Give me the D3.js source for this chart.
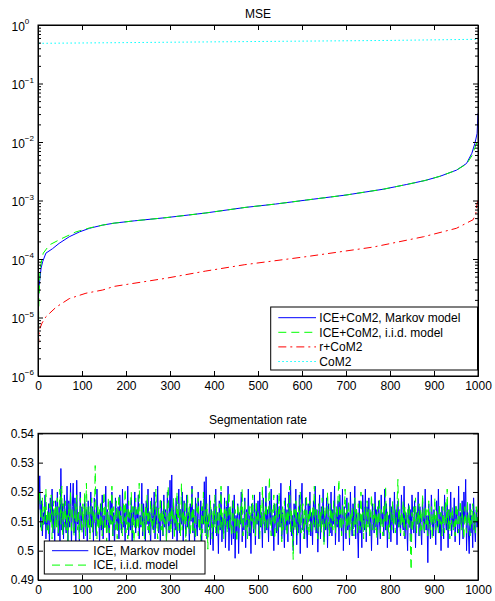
<!DOCTYPE html>
<html><head><meta charset="utf-8">
<script src="https://cdn.jsdelivr.net/npm/d3@7/dist/d3.min.js"></script>
<style>
html,body{margin:0;padding:0;background:#fff;}
text{font-family:"Liberation Sans",Arial,Helvetica,sans-serif;}
</style></head>
<body><svg id="c" width="495" height="601"></svg>
<script>
// ---------- DATA ----------
const mseTitle = "MSE";
const segTitle = "Segmentation rate";
const xTicks = [0,100,200,300,400,500,600,700,800,900,1000];
const mseDecades = [-6,-5,-4,-3,-2,-1,0];
const segTicks = [0.49,0.50,0.51,0.52,0.53,0.54];
const segTickLabels = ["0.49","0.5","0.51","0.52","0.53","0.54"];

const mseNames = ["ICE+CoM2, Markov model","ICE+CoM2, i.i.d. model","r+CoM2","CoM2"];
// [index, MSE]
const mseMarkov = [[1,2.0e-5],[2,3.2e-5],[4.5,4.7e-5],[7,7e-5],[10.6,9e-5],[18,1.26e-4],[33,1.5e-4],[48,1.85e-4],[71,2.4e-4],[94,2.9e-4],[117,3.35e-4],[147,3.8e-4],[173,4.1e-4],[220,4.5e-4],[292,5.1e-4],[380,6.1e-4],[470,7.6e-4],[540,8.7e-4],[611,1.02e-3],[700,1.24e-3],[785,1.56e-3],[838,1.88e-3],[880,2.2e-3],[914,2.6e-3],[951,3.3e-3],[974,4.3e-3],[986,6.4e-3],[993,9.5e-3],[998,1.4e-2],[1000,3.1e-2]];
const mseIid = [[1,2.0e-6],[1.5,1.3e-5],[4.5,6.5e-5],[10,1.1e-4],[12,1.26e-4],[26,1.74e-4],[52,2.2e-4],[86,2.9e-4],[117,3.4e-4],[147,3.8e-4],[173,4.1e-4],[220,4.5e-4],[292,5.1e-4],[380,6.1e-4],[470,7.6e-4],[540,8.7e-4],[611,1.02e-3],[700,1.24e-3],[785,1.56e-3],[838,1.88e-3],[880,2.2e-3],[914,2.6e-3],[951,3.3e-3],[974,4.2e-3],[986,5.8e-3],[993,8.0e-3],[1000,1.1e-2]];
const mseR = [[1,3.2e-6],[2,4.5e-6],[3,6.1e-6],[9,8e-6],[18,1.03e-5],[41,1.5e-5],[71,2.1e-5],[109,2.6e-5],[147,2.95e-5],[173,3.4e-5],[292,4.7e-5],[380,6.2e-5],[470,8e-5],[611,1.1e-4],[762,1.6e-4],[876,2.4e-4],[951,3.35e-4],[989,4.7e-4],[995,6e-4],[998,8.9e-4],[1000,1.0e-3]];
const mseCoM2 = [[1,0.486],[200,0.50],[400,0.515],[600,0.53],[800,0.545],[1000,0.57]];

const segNames = ["ICE, Markov model","ICE, i.i.d. model"];
// one value every 2 realisations (2,4,...,1000)
const segMarkov = [
0.514,0.5255,0.508,0.517,0.505,0.513,0.509,0.519,0.504,0.512,
0.507,0.516,0.502,0.518,0.510,0.521,0.506,0.514,0.503,0.517,
0.509,0.520,0.505,0.515,0.501,0.528,0.507,0.516,0.504,0.519,
0.511,0.506,0.522,0.503,0.517,0.508,0.523,0.502,0.515,0.523,
0.506,0.518,0.501,0.524,0.509,0.513,0.503,0.520,0.507,0.515,
0.510,0.504,0.519,0.508,0.514,0.502,0.517,0.511,0.506,0.520,
0.508,0.515,0.503,0.518,0.510,0.505,0.521,0.509,0.513,0.502,
0.516,0.507,0.519,0.504,0.512,0.508,0.522,0.506,0.514,0.510,
0.503,0.517,0.509,0.520,0.505,0.513,0.501,0.518,0.511,0.507,
0.515,0.504,0.519,0.510,0.506,0.521,0.508,0.514,0.503,0.516,
0.509,0.522,0.505,0.513,0.507,0.518,0.502,0.515,0.510,0.520,
0.506,0.514,0.511,0.519,0.504,0.512,0.508,0.523,0.505,0.516,
0.510,0.503,0.517,0.509,0.521,0.506,0.513,0.501,0.518,0.511,
0.507,0.520,0.504,0.515,0.509,0.522,0.506,0.512,0.502,0.517,
0.511,0.505,0.519,0.508,0.514,0.503,0.520,0.510,0.506,0.524,
0.509,0.5258,0.504,0.516,0.510,0.507,0.518,0.502,0.513,0.521,
0.506,0.514,0.509,0.520,0.503,0.517,0.511,0.505,0.519,0.508,
0.513,0.502,0.516,0.510,0.522,0.506,0.514,0.501,0.518,0.509,
0.505,0.520,0.511,0.507,0.517,0.503,0.515,0.509,0.5235,0.506,
0.5252,0.504,0.512,0.508,0.519,0.502,0.514,0.510,0.500,0.516,
0.509,0.521,0.505,0.513,0.499,0.517,0.507,0.520,0.503,0.511,
0.506,0.518,0.501,0.515,0.508,0.522,0.500,0.514,0.510,0.502,
0.517,0.504,0.519,0.4974,0.512,0.506,0.516,0.499,0.513,0.509,
0.520,0.503,0.511,0.507,0.518,0.501,0.514,0.508,0.521,0.505,
0.512,0.499,0.516,0.510,0.506,0.519,0.502,0.514,0.509,0.517,
0.504,0.520,0.508,0.513,0.501,0.518,0.510,0.506,0.522,0.507,
0.514,0.503,0.517,0.509,0.521,0.505,0.512,0.500,0.516,0.510,
0.506,0.519,0.502,0.515,0.508,0.523,0.504,0.513,0.510,0.501,
0.518,0.507,0.514,0.503,0.520,0.509,0.524,0.505,0.512,0.500,
0.516,0.508,0.521,0.502,0.513,0.506,0.519,0.499,0.515,0.523,
0.507,0.511,0.504,0.518,0.509,0.501,0.516,0.510,0.520,0.505,
0.513,0.502,0.517,0.508,0.522,0.506,0.514,0.4995,0.511,0.519,
0.504,0.515,0.509,0.521,0.503,0.512,0.507,0.518,0.501,0.516,
0.510,0.506,0.520,0.505,0.514,0.509,0.522,0.502,0.513,0.508,
0.517,0.503,0.519,0.511,0.506,0.521,0.500,0.515,0.509,0.504,
0.518,0.507,0.513,0.502,0.520,0.510,0.505,0.516,0.508,0.522,
0.504,0.514,0.509,0.4975,0.517,0.506,0.512,0.501,0.519,0.510,
0.507,0.521,0.503,0.515,0.509,0.518,0.505,0.513,0.500,0.516,
0.511,0.506,0.520,0.508,0.514,0.502,0.517,0.510,0.504,0.519,
0.509,0.513,0.505,0.521,0.507,0.516,0.501,0.512,0.508,0.518,
0.503,0.515,0.510,0.506,0.520,0.509,0.514,0.502,0.517,0.508,
0.512,0.505,0.519,0.510,0.507,0.522,0.504,0.513,0.509,0.500,
0.516,0.508,0.514,0.503,0.519,0.511,0.506,0.517,0.501,0.513,
0.509,0.520,0.505,0.515,0.508,0.502,0.518,0.510,0.506,0.521,
0.507,0.512,0.4959,0.516,0.509,0.504,0.519,0.511,0.505,0.514,
0.510,0.502,0.517,0.508,0.521,0.506,0.513,0.500,0.515,0.509,
0.504,0.519,0.511,0.507,0.516,0.501,0.514,0.509,0.520,0.505,
0.512,0.508,0.518,0.503,0.515,0.510,0.506,0.522,0.502,0.513,
0.509,0.517,0.504,0.520,0.511,0.5243,0.500,0.514,0.507,0.499,
0.516,0.506,0.512,0.501,0.518,0.509,0.503,0.514,0.508,0.511];
const segIid = [
0.517,0.520,0.511,0.506,0.518,0.508,0.515,0.510,0.521,0.507,
0.514,0.505,0.516,0.509,0.519,0.504,0.513,0.517,0.507,0.515,
0.508,0.518,0.506,0.514,0.521,0.509,0.522,0.505,0.516,0.508,
0.517,0.507,0.513,0.503,0.516,0.510,0.520,0.506,0.514,0.509,
0.505,0.516,0.510,0.519,0.507,0.514,0.504,0.518,0.511,0.506,
0.516,0.508,0.520,0.505,0.523,0.510,0.507,0.515,0.504,0.513,
0.518,0.506,0.514,0.509,0.529,0.510,0.504,0.516,0.507,0.514,
0.508,0.517,0.505,0.513,0.520,0.507,0.515,0.503,0.510,0.518,
0.506,0.514,0.509,0.522,0.505,0.515,0.510,0.507,0.517,0.504,
0.513,0.519,0.507,0.515,0.509,0.505,0.516,0.510,0.521,0.506,
0.514,0.504,0.517,0.508,0.513,0.520,0.506,0.515,0.503,0.510,
0.518,0.507,0.514,0.505,0.523,0.510,0.508,0.516,0.506,0.513,
0.504,0.515,0.509,0.519,0.507,0.514,0.505,0.517,0.510,0.507,
0.516,0.506,0.513,0.521,0.509,0.504,0.515,0.510,0.518,0.507,
0.514,0.505,0.517,0.509,0.513,0.503,0.516,0.522,0.507,0.514,
0.506,0.515,0.510,0.518,0.504,0.513,0.508,0.520,0.506,0.516,
0.510,0.505,0.523,0.507,0.514,0.509,0.517,0.502,0.513,0.519,
0.507,0.515,0.505,0.510,0.521,0.506,0.514,0.509,0.504,0.516,
0.513,0.518,0.507,0.511,0.503,0.515,0.506,0.520,0.509,0.514,
0.505,0.516,0.5005,0.513,0.507,0.517,0.510,0.504,0.514,0.508,
0.519,0.506,0.515,0.510,0.505,0.516,0.508,0.522,0.507,0.513,
0.504,0.514,0.509,0.517,0.506,0.513,0.520,0.507,0.515,0.505,
0.510,0.518,0.506,0.514,0.508,0.503,0.516,0.511,0.507,0.515,
0.509,0.521,0.505,0.513,0.517,0.507,0.514,0.504,0.510,0.516,
0.506,0.515,0.510,0.519,0.507,0.513,0.505,0.517,0.509,0.514,
0.510,0.504,0.516,0.508,0.522,0.509,0.514,0.506,0.518,0.511,
0.507,0.515,0.5252,0.509,0.505,0.514,0.510,0.519,0.504,0.513,
0.516,0.506,0.510,0.520,0.508,0.514,0.503,0.515,0.507,0.517,
0.509,0.513,0.505,0.516,0.510,0.522,0.506,0.514,0.508,0.497,
0.514,0.507,0.517,0.510,0.505,0.515,0.509,0.520,0.506,0.513,
0.516,0.504,0.514,0.509,0.519,0.507,0.513,0.505,0.517,0.510,
0.506,0.515,0.509,0.522,0.507,0.514,0.510,0.504,0.516,0.508,
0.513,0.506,0.518,0.509,0.502,0.515,0.510,0.507,0.520,0.511,
0.505,0.516,0.508,0.514,0.507,0.517,0.510,0.506,0.515,0.509,
0.519,0.5243,0.507,0.514,0.505,0.516,0.509,0.513,0.521,0.506,
0.514,0.508,0.517,0.504,0.513,0.507,0.515,0.510,0.505,0.518,
0.509,0.514,0.506,0.516,0.510,0.507,0.520,0.508,0.513,0.504,
0.515,0.510,0.506,0.517,0.508,0.514,0.505,0.513,0.519,0.507,
0.510,0.516,0.507,0.513,0.504,0.515,0.509,0.518,0.506,0.514,
0.509,0.505,0.516,0.510,0.522,0.507,0.514,0.509,0.504,0.515,
0.513,0.507,0.517,0.509,0.514,0.506,0.510,0.516,0.5243,0.508,
0.514,0.506,0.513,0.509,0.517,0.505,0.515,0.510,0.507,0.514,
0.509,0.516,0.504,0.4934,0.513,0.507,0.515,0.510,0.518,0.506,
0.513,0.509,0.516,0.505,0.514,0.507,0.519,0.510,0.506,0.515,
0.509,0.514,0.505,0.517,0.510,0.507,0.515,0.504,0.513,0.509,
0.518,0.507,0.514,0.510,0.506,0.516,0.509,0.513,0.505,0.515,
0.510,0.506,0.517,0.509,0.521,0.507,0.514,0.504,0.513,0.509,
0.515,0.507,0.510,0.505,0.516,0.509,0.514,0.506,0.513,0.517,
0.507,0.514,0.509,0.504,0.515,0.510,0.506,0.517,0.509,0.513,
0.505,0.514,0.509,0.516,0.507,0.513,0.506,0.515,0.510,0.514];

// ---------- STYLE ----------
const colors = {markov:"#0000ff", iid:"#00ff00", r:"#ff0000", com2:"#00ffff"};
const dashes = {markov:null, iid:"8,5", r:"8,4,2,4", com2:"1.5,2.5"};

const svg = d3.select("#c");
const L = 38, R = 478;
const top1 = 25, bot1 = 376, top2 = 433.3, bot2 = 580;

const x1 = d3.scaleLinear().domain([0,1000]).range([L,R]);
const y1 = d3.scaleLog().domain([1e-6,1]).range([bot1,top1]);
const x2 = d3.scaleLinear().domain([0,1000]).range([L,R]);
const y2 = d3.scaleLinear().domain([0.49,0.54]).range([bot2,top2]);

const defs = svg.append("defs");
defs.append("clipPath").attr("id","clip1").append("rect").attr("x",L).attr("y",top1).attr("width",R-L).attr("height",bot1-top1);
defs.append("clipPath").attr("id","clip2").append("rect").attr("x",L).attr("y",top2).attr("width",R-L).attr("height",bot2-top2);

function styleAxis(g){
  g.selectAll("path.domain").attr("stroke","#000").attr("stroke-width",1);
  g.selectAll(".tick line").attr("stroke","#000").attr("stroke-width",1);
  g.selectAll(".tick text").attr("font-size",12).attr("fill","#000").attr("font-family","'Liberation Sans',Arial,sans-serif");
}

// ---------- TOP PANEL ----------
const p1 = svg.append("g");
const lineTop = d3.line().x(d=>x1(d[0])).y(d=>y1(d[1]));
const topSeries = [[mseMarkov,"markov"],[mseIid,"iid"],[mseR,"r"],[mseCoM2,"com2"]];
const gl1 = p1.append("g").attr("clip-path","url(#clip1)");
topSeries.forEach(([d,k])=>{
  gl1.append("path").datum(d).attr("d",lineTop).attr("fill","none")
    .attr("stroke",colors[k]).attr("stroke-width",1)
    .attr("stroke-dasharray",dashes[k]);
});

const majors = mseDecades.map(e=>Math.pow(10,e));
const minors = [];
mseDecades.slice(0,-1).forEach(e=>{for(let m=2;m<=9;m++) minors.push(m*Math.pow(10,e));});

p1.append("g").attr("transform",`translate(0,${bot1})`)
  .call(d3.axisBottom(x1).tickValues(xTicks).tickSize(-5).tickSizeOuter(0).tickPadding(5).tickFormat(d3.format("d")))
  .call(styleAxis);
p1.append("g").attr("transform",`translate(0,${top1})`)
  .call(d3.axisTop(x1).tickValues(xTicks).tickSize(-5).tickSizeOuter(0).tickFormat(""))
  .call(styleAxis);
p1.append("g").attr("transform",`translate(${L},0)`)
  .call(d3.axisLeft(y1).tickValues(majors).tickSize(-5).tickSizeOuter(0).tickFormat(""))
  .call(styleAxis);
p1.append("g").attr("transform",`translate(${L},0)`)
  .call(d3.axisLeft(y1).tickValues(minors).tickSize(-3).tickSizeOuter(0).tickFormat(""))
  .call(styleAxis);
p1.append("g").attr("transform",`translate(${R},0)`)
  .call(d3.axisRight(y1).tickValues(majors).tickSize(-5).tickSizeOuter(0).tickFormat(""))
  .call(styleAxis);
p1.append("g").attr("transform",`translate(${R},0)`)
  .call(d3.axisRight(y1).tickValues(minors).tickSize(-3).tickSizeOuter(0).tickFormat(""))
  .call(styleAxis);

// log labels 10^e
mseDecades.forEach(e=>{
  const t = p1.append("text").attr("x",11.5).attr("y",y1(Math.pow(10,e))+5.5)
    .attr("font-size",12).attr("fill","#000");
  t.append("tspan").text("10");
  t.append("tspan").attr("font-size",8).attr("dy",-6.5).text(e===0?"0":"\u2212"+(-e));
});

p1.append("text").attr("x",(L+R)/2).attr("y",17.5).attr("text-anchor","middle")
  .attr("font-size",12).text(mseTitle);

// legend top
const lg1 = p1.append("g");
const lgX = 270.7, lgY = 307, lgW = 206.8, lgH = 63;
lg1.append("rect").attr("x",lgX).attr("y",lgY).attr("width",lgW).attr("height",lgH)
  .attr("fill","#fff").attr("stroke","#000").attr("stroke-width",1);
const lgKeys = ["markov","iid","r","com2"];
mseNames.forEach((n,i)=>{
  const yy = 317.7 + i*14.6;
  lg1.append("line").attr("x1",278.3).attr("x2",316).attr("y1",yy).attr("y2",yy)
    .attr("stroke",colors[lgKeys[i]]).attr("stroke-width",1).attr("stroke-dasharray",dashes[lgKeys[i]]);
  lg1.append("text").attr("x",319.3).attr("y",yy+4.3).attr("font-size",12).text(n);
});

// ---------- BOTTOM PANEL ----------
const p2 = svg.append("g");
const lineBot = d3.line().x((d,i)=>x2((i+1)*2)).y(d=>y2(d));
const gl2 = p2.append("g").attr("clip-path","url(#clip2)");
gl2.append("path").datum(segMarkov).attr("d",lineBot).attr("fill","none")
  .attr("stroke",colors.markov).attr("stroke-width",1);
gl2.append("path").datum(segIid).attr("d",lineBot).attr("fill","none")
  .attr("stroke",colors.iid).attr("stroke-width",1).attr("stroke-dasharray",dashes.iid);

p2.append("g").attr("transform",`translate(0,${bot2})`)
  .call(d3.axisBottom(x2).tickValues(xTicks).tickSize(-5).tickSizeOuter(0).tickPadding(5).tickFormat(d3.format("d")))
  .call(styleAxis);
p2.append("g").attr("transform",`translate(0,${top2})`)
  .call(d3.axisTop(x2).tickValues(xTicks).tickSize(-5).tickSizeOuter(0).tickFormat(""))
  .call(styleAxis);
p2.append("g").attr("transform",`translate(${L},0)`)
  .call(d3.axisLeft(y2).tickValues(segTicks).tickSize(-5).tickSizeOuter(0).tickPadding(4)
    .tickFormat((d,i)=>segTickLabels[i]))
  .call(styleAxis);
p2.append("g").attr("transform",`translate(${R},0)`)
  .call(d3.axisRight(y2).tickValues(segTicks).tickSize(-5).tickSizeOuter(0).tickFormat(""))
  .call(styleAxis);

p2.append("text").attr("x",(L+R)/2).attr("y",424).attr("text-anchor","middle")
  .attr("font-size",12).text(segTitle);

const lg2 = p2.append("g");
lg2.append("rect").attr("x",44.3).attr("y",541).attr("width",160.7).attr("height",33)
  .attr("fill","#fff").attr("stroke","#000").attr("stroke-width",1);
["markov","iid"].forEach((k,i)=>{
  const yy = 550.7 + i*14.4;
  lg2.append("line").attr("x1",52).attr("x2",88.3).attr("y1",yy).attr("y2",yy)
    .attr("stroke",colors[k]).attr("stroke-width",1).attr("stroke-dasharray",dashes[k]);
  lg2.append("text").attr("x",93.3).attr("y",yy+4.3).attr("font-size",12).text(segNames[i]);
});

// boxes
[[top1,bot1],[top2,bot2]].forEach(([t,b])=>{
  svg.append("rect").attr("x",L).attr("y",t).attr("width",R-L).attr("height",b-t)
    .attr("fill","none").attr("stroke","#000").attr("stroke-width",1);
});
</script></body></html>
